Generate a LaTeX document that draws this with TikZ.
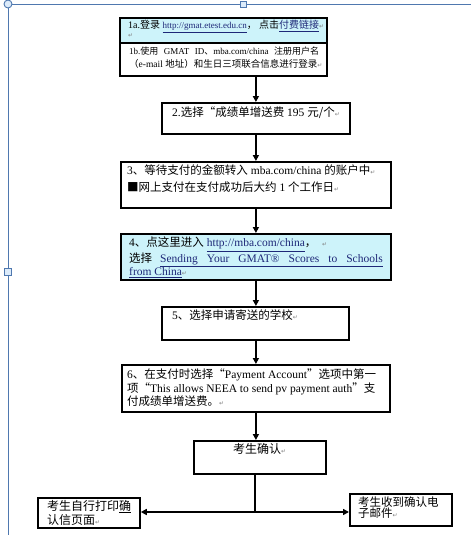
\documentclass[tikz,border=0pt]{standalone}
\usepackage{fontspec}
\setmainfont{Liberation Serif}
\newfontfamily\zhf{Noto Sans CJK SC}
\newfontfamily\symf{DejaVu Sans}
\newcommand{\zh}[1]{{\zhf #1}}
\newcommand{\pmk}{{\symf\color{gray}\fontsize{6}{6}\selectfont ↵}}
\newcommand{\lnk}[1]{\textcolor{linkblue}{\underline{#1}}}
\newcommand{\gul}[1]{\underline{#1}}
\usetikzlibrary{arrows.meta}
\definecolor{selblue}{RGB}{79,120,175}
\definecolor{handlefill}{RGB}{220,235,250}
\definecolor{cyanfill}{RGB}{205,243,250}
\definecolor{linkblue}{RGB}{30,40,120}
\tikzset{
  box/.style={draw=black, line width=1.8pt, rectangle, inner sep=0pt, anchor=north west},
  txt/.style={anchor=north west, inner sep=0pt, align=left},
  arr/.style={line width=1.6pt, -{Triangle[length=6pt,width=6pt]}},
  ln/.style={line width=1.6pt},
  sel/.style={draw=selblue, line width=0.9pt},
}
\begin{document}
\begin{tikzpicture}[x=1pt,y=-1pt]
\useasboundingbox (0,0) rectangle (471,535);
% selection frame
\draw[sel] (12,4) -- (471,4);
\draw[sel] (8,8) -- (8,535);
\node[sel, circle, fill=handlefill, minimum size=8pt, inner sep=0pt] (hc) at (8,4) {};
\node[sel, rectangle, fill=handlefill, minimum size=6pt, inner sep=0pt] (ht) at (243,4) {};
\node[sel, rectangle, fill=handlefill, minimum size=7pt, inner sep=0pt] (hl) at (8,272) {};
% boxes
\node[box, fill=cyanfill, minimum width=207pt, minimum height=25pt] (b1a) at (119,17) {};
\node[box, minimum width=207pt, minimum height=33pt] (b1b) at (119,42) {};
\node[box, minimum width=188pt, minimum height=31pt] (b2) at (161,102) {};
\node[box, minimum width=270pt, minimum height=46pt] (b3) at (120,161) {};
\node[box, fill=cyanfill, minimum width=270pt, minimum height=46pt] (b4) at (120,233) {};
\node[box, minimum width=187pt, minimum height=33pt] (b5) at (161,306) {};
\node[box, minimum width=268pt, minimum height=47pt] (b6) at (121,364) {};
\node[box, minimum width=132pt, minimum height=33pt] (b7) at (193,440) {};
\node[box, minimum width=102pt, minimum height=30pt] (bl) at (37,497) {};
\node[box, minimum width=102pt, minimum height=32pt] (br) at (349,493) {};
% texts
\node[txt, font=\fontsize{10}{10}\selectfont] (t1a) at (128,20) {1a.\zh{登录} \lnk{\fontsize{9}{10}\selectfont http://gmat.etest.edu.cn}\zh{，\ 点击}\lnk{\zh{付费链接}}\pmk\\[-1pt]\pmk};
\node[txt, font=\fontsize{9.5}{13}\selectfont] (t1b) at (129,47) {{\fontsize{9}{13}\selectfont\makebox[190pt][s]{1b.\zh{使用} GMAT ID\zh{、}mba.com/china \zh{注册用户名}}}\\\zh{（}e-mail \zh{地址）和生日三项联合信息进行登录}\pmk};
\node[txt, font=\fontsize{11.5}{14}\selectfont] (t2) at (172,107) {2.\zh{选择“成绩单增送费} 195 \zh{元/个}\pmk};
\node[txt, font=\fontsize{11.5}{17}\selectfont] (t3) at (127,165) {3\zh{、等待支付的金额转入} mba.com/china \zh{的账户中}\pmk\\\zh{■网上支付在支付成功后大约} 1 \zh{个工作日}\pmk};
\node[txt, font=\fontsize{11.5}{11.8}\selectfont] (t4) at (129,237) {4\zh{、点这里进入} \lnk{http://mba.com/china}\zh{，}\ \ \pmk\\\zh{选择}\hspace{8pt}\lnk{Sending\hspace{9pt}Your\hspace{9pt}GMAT®\hspace{9pt}Scores\hspace{9pt}to\hspace{9pt}Schools}\\\lnk{from China}\pmk};
\node[txt, font=\fontsize{11.5}{14}\selectfont] (t5) at (172,310) {5\zh{、选择申请寄送的学校}\pmk};
\node[txt, font=\fontsize{11.5}{11.8}\selectfont] (t6) at (127,369) {6\zh{、在支付时选择“}Payment Account\zh{”选项中第一}\\\zh{项“}This allows NEEA to send pv payment auth\zh{”支}\\\zh{付成绩单增送费。}\pmk};
\node[txt, font=\fontsize{12}{14}\selectfont] (t7) at (233,443) {\zh{考生确认}\pmk};
\node[txt, font=\fontsize{12}{12.5}\selectfont] (tl) at (47,500) {\zh{考生自行打印}\gul{\zh{确}}\\\gul{\zh{认信页面}}\pmk};
\node[txt, font=\fontsize{11.5}{11}\selectfont] (tr) at (358,497) {\zh{考生收到确认电}\\\zh{子邮件}\pmk};
% connectors
\draw[arr] (b2.north |- b1b.south) -- (b2.north);
\draw[arr] (b2.south) -- (b3.north -| b2.south);
\draw[arr] (b3.south -| b2.south) -- (b4.north -| b2.south);
\draw[arr] (b4.south -| b2.south) -- (b5.north -| b2.south);
\draw[arr] (b5.south -| b2.south) -- (b6.north -| b2.south);
\draw[arr] (b6.south -| b2.south) -- (b7.north -| b2.south);
\coordinate (j) at (255,512);
\draw[ln] (b7.south -| j) -- (j);
\draw[arr] (j) -- (bl.east |- j);
\draw[arr] (j) -- (br.west |- j);
\end{tikzpicture}
\end{document}
